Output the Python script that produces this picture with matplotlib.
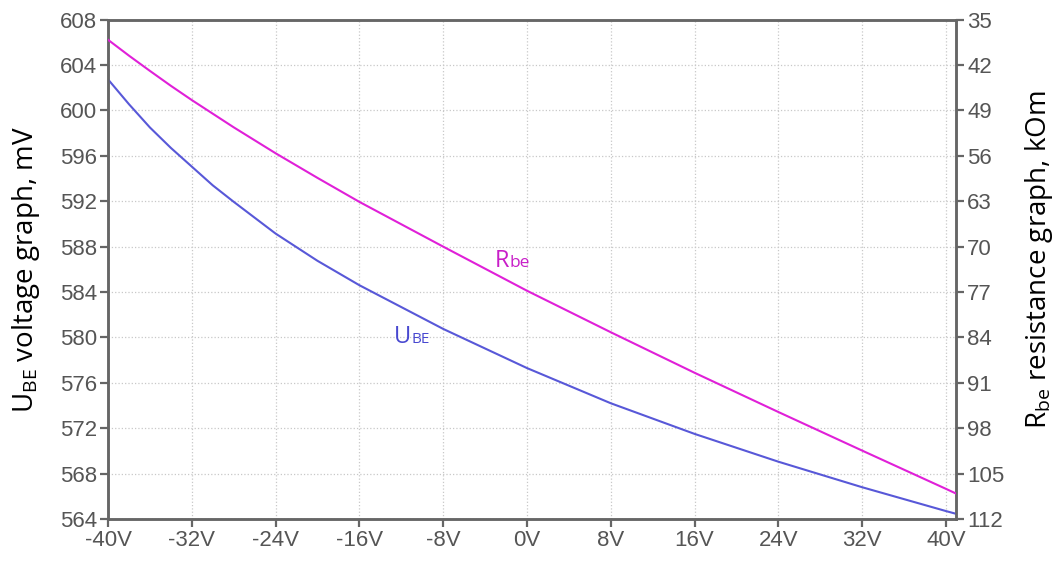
import numpy as np
import matplotlib.pyplot as plt

# Data
volts = [-40, -38, -36, -34, -32, -30, -28, -24, -20, -16, -8, 0, 8, 16, 24,
         32, 40, 41]
u_be = [602.74, 600.55, 598.5, 596.7, 595.05, 593.4, 591.95, 589.15, 586.75,
        584.6, 580.75, 577.3, 574.2, 571.5, 569.05, 566.8, 564.7, 564.45]
r_be = [38.1, 40.55, 42.9, 45.2, 47.4, 49.5, 51.6, 55.6, 59.4, 63.1, 70.0,
        76.8, 83.2, 89.45, 95.5, 101.45, 107.35, 108.1]

x_ticks = [-40, -32, -24, -16, -8, 0, 8, 16, 24, 32, 40]
x_labels = [f"{v}V" for v in x_ticks]
u_ticks = list(range(564, 609, 4))
r_ticks = list(range(35, 113, 7))

tick_font = ['Liberation Sans Narrow', 'Liberation Sans', 'DejaVu Sans']
label_font = ['Open Sans', 'DejaVu Sans']
axis_col = '#666666'
tick_col = '#555555'
pink = '#e020d8'
blue = '#5858d8'

fig = plt.figure(figsize=(10.56, 5.62), dpi=100)
ax = fig.add_axes([0.1023, 0.0765, 0.8030, 0.8885])
ax2 = ax.twinx()

ax.plot(volts, u_be, color=blue, lw=1.5, zorder=3)
ax2.plot(volts, r_be, color=pink, lw=1.5, zorder=3)

ax.set_xlim(-40, 40.96)
ax.set_ylim(564, 608)
ax2.set_ylim(112, 35)

ax.set_xticks(x_ticks)
ax.set_xticklabels(x_labels)
ax.set_yticks(u_ticks)
ax2.set_yticks(r_ticks)

ax.grid(True, linestyle=':', color='#c8c8c8', lw=0.9)
ax.set_axisbelow(True)

for a in (ax, ax2):
    for s in a.spines.values():
        s.set_color(axis_col)
        s.set_linewidth(1.8)
    a.tick_params(colors=axis_col, width=1.6, length=6, labelcolor=tick_col,
                  labelsize=16, pad=2)
    for lab in a.get_xticklabels() + a.get_yticklabels():
        lab.set_family(tick_font)

ax.set_ylabel(r'U$_{\mathregular{BE}}$ voltage graph, mV', fontsize=20,
              family=label_font)
ax.yaxis.set_label_coords(-0.078, 0.5)
ax2.set_ylabel(r'R$_{\mathregular{be}}$ resistance graph, kOm', fontsize=20,
               family=label_font)
ax2.yaxis.set_label_coords(1.079, 0.52)

# curve labels: big letter plus small suffix sitting on the same baseline
r_txt = ax2.text(-3.1, 73.1, 'R', color='#c81ec8', fontsize=17,
                 family=label_font, va='baseline')
ax2.annotate('be', xy=(1, 0), xycoords=r_txt, xytext=(0.5, 1.1),
             textcoords='offset points', color='#c81ec8', fontsize=12.5,
             family=label_font, va='bottom')
u_txt = ax.text(-12.7, 579.55, 'U', color='#4848d0', fontsize=17,
                family=label_font, va='baseline')
ax.annotate('BE', xy=(1, 0), xycoords=u_txt, xytext=(0.5, 1.3),
            textcoords='offset points', color='#4848d0', fontsize=11,
            family=label_font, va='bottom')

fig.savefig('out.png', dpi=100)
